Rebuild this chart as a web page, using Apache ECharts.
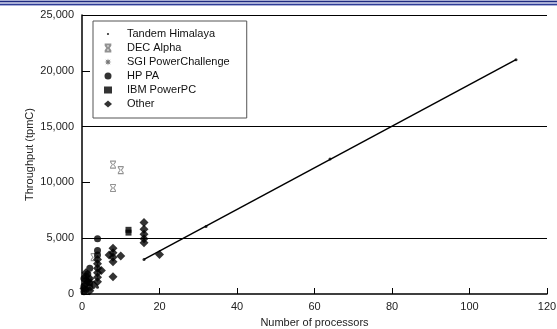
<!DOCTYPE html>
<html>
<head>
<meta charset="utf-8">
<script src="https://cdn.jsdelivr.net/npm/echarts@6/dist/echarts.min.js"></script>
<style>
  html, body { margin: 0; padding: 0; background: #fff; }
  #chart { width: 557px; height: 329px; }
</style>
</head>
<body>
<div id="chart"></div>
<script>
// x = processors, y = throughput (tpmC)
const tandemHimalaya = [[4, 600], [16, 3100], [32, 6050], [64, 12100], [112, 21000]]
const decAlpha = [[3, 3300], [8, 9500], [8, 11600], [10, 11100]]
const sgiPowerChallenge = [[2, 1300]]
const hpPA = [[4, 4950], [2, 2300], [4, 3900], [4, 3500], [1, 1600], [1, 1200], [2, 1000], [0.5, 700], [1, 400], [2, 600], [0.5, 1400], [1.5, 1800], [0.5, 200]]
const ibmPowerPC = [[12, 5500], [12, 5750]]
const other = [
  [16, 6400], [16, 5800], [16, 5350], [16, 4950], [16, 4600],
  [20, 3550],
  [8, 4100], [8, 3700], [8, 3300], [7, 3500], [10, 3400], [8, 2900], [8, 1550],
  [4, 3100], [4, 2700], [4, 2300], [4, 1900], [4, 1500], [4, 1100], [5, 2100], [3, 800],
  [1, 900], [2, 1400], [1, 1900], [0.5, 500], [2, 300], [1.5, 1100]
]
// fitted line over the Tandem points
const fitLine = [[16, 3100], [112, 21000]]
const yGridLines = [5000, 15000, 25000]

const hourglass = 'path://M0,0 L8,0 L8,1.5 L5,6 L8,10.5 L8,12 L0,12 L0,10.5 L3,6 L0,1.5 Z'
const asterisk = 'path://M5,0 L5.84,2.97 L8.54,1.46 L7.03,4.16 L10,5 L7.03,5.84 L8.54,8.54 L5.84,7.03 L5,10 L4.16,7.03 L1.46,8.54 L2.97,5.84 L0,5 L2.97,4.16 L1.46,1.46 L4.16,2.97 Z'
// small dot inside a padded box so the legend icon stays tiny
const tinyDot = 'path://M0,0 L0.01,0 L0,0.01 Z M10,10 L10.01,10 L10,10.01 Z M5,3.4 A1.6,1.6 0 1 1 5,6.6 A1.6,1.6 0 1 1 5,3.4 Z'

const font = 'Liberation Sans, Arial, sans-serif'
const chart = echarts.init(document.getElementById('chart'), null, { renderer: 'canvas' })

chart.setOption({
  animation: false,
  textStyle: { fontFamily: font },
  graphic: [
    { type: 'rect', shape: { x: 0, y: 0, width: 557, height: 6 }, style: { fill: '#d6d9ee' } },
    { type: 'line', shape: { x1: 0, y1: 1.5, x2: 557, y2: 1.5 }, style: { stroke: '#1e2a80', lineWidth: 1.5 } },
    { type: 'line', shape: { x1: 0, y1: 4.5, x2: 557, y2: 4.5 }, style: { stroke: '#2e3c96', lineWidth: 1.5 } }
  ],
  legend: {
    orient: 'vertical',
    left: 93,
    top: 21,
    padding: [6, 17, 7, 11],
    itemGap: 0,
    itemWidth: 8,
    itemHeight: 7,
    borderColor: '#555',
    borderWidth: 1,
    textStyle: { fontSize: 11, color: '#111', lineHeight: 14, padding: [0, 0, 0, 10] },
    data: [
      { name: 'Tandem Himalaya', icon: tinyDot },
      'DEC Alpha', 'SGI PowerChallenge', 'HP PA', 'IBM PowerPC', 'Other'
    ]
  },
  grid: { left: 82, right: 10, top: 15, bottom: 35, outerBoundsMode: 'none' },
  xAxis: {
    type: 'value',
    min: 0,
    max: 120,
    interval: 20,
    name: 'Number of processors',
    nameLocation: 'middle',
    nameGap: 23,
    nameTextStyle: { fontSize: 11, color: '#222' },
    axisLine: { lineStyle: { color: '#000', width: 1.5 } },
    axisTick: { inside: true, length: 6, lineStyle: { color: '#000' } },
    axisLabel: { fontSize: 11, color: '#222', margin: 7 },
    splitLine: { show: false }
  },
  yAxis: {
    type: 'value',
    min: 0,
    max: 25000,
    interval: 5000,
    name: 'Throughput (tpmC)',
    nameLocation: 'middle',
    nameGap: 47,
    nameMoveOverlap: false,
    nameTextStyle: { fontSize: 11, color: '#222' },
    axisLine: { show: true, lineStyle: { color: '#000', width: 1.5 } },
    axisTick: { show: true, inside: true, length: 8, lineStyle: { color: '#000' } },
    axisLabel: {
      fontSize: 11,
      color: '#222',
      margin: 8,
      formatter: v => v.toLocaleString('en-US')
    },
    splitLine: { show: false }
  },
  series: [
    {
      name: 'Tandem Himalaya',
      type: 'scatter',
      symbol: 'circle',
      symbolSize: 3,
      itemStyle: { color: '#000' },
      data: tandemHimalaya,
      markLine: {
        silent: true,
        symbol: 'none',
        label: { show: false },
        lineStyle: { color: '#000', width: 1, type: 'solid' },
        data: yGridLines.map(v => ({ yAxis: v }))
      }
    },
    {
      name: 'fit',
      type: 'line',
      data: fitLine,
      symbol: 'none',
      lineStyle: { color: '#000', width: 1.5 },
      z: 1
    },
    {
      name: 'DEC Alpha',
      type: 'scatter',
      symbol: hourglass,
      symbolSize: [5, 7],
      itemStyle: { color: '#fff', borderColor: '#777', borderWidth: 1 },
      data: decAlpha
    },
    {
      name: 'SGI PowerChallenge',
      type: 'scatter',
      symbol: asterisk,
      symbolSize: 8,
      itemStyle: { color: '#555' },
      data: sgiPowerChallenge
    },
    {
      name: 'HP PA',
      type: 'scatter',
      symbol: 'circle',
      symbolSize: 7,
      itemStyle: { color: '#000' },
      data: hpPA
    },
    {
      name: 'IBM PowerPC',
      type: 'scatter',
      symbol: 'rect',
      symbolSize: 6,
      itemStyle: { color: '#000' },
      data: ibmPowerPC
    },
    {
      name: 'Other',
      type: 'scatter',
      symbol: 'diamond',
      symbolSize: 9,
      itemStyle: { color: '#000' },
      data: other
    }
  ]
})
</script>
</body>
</html>
